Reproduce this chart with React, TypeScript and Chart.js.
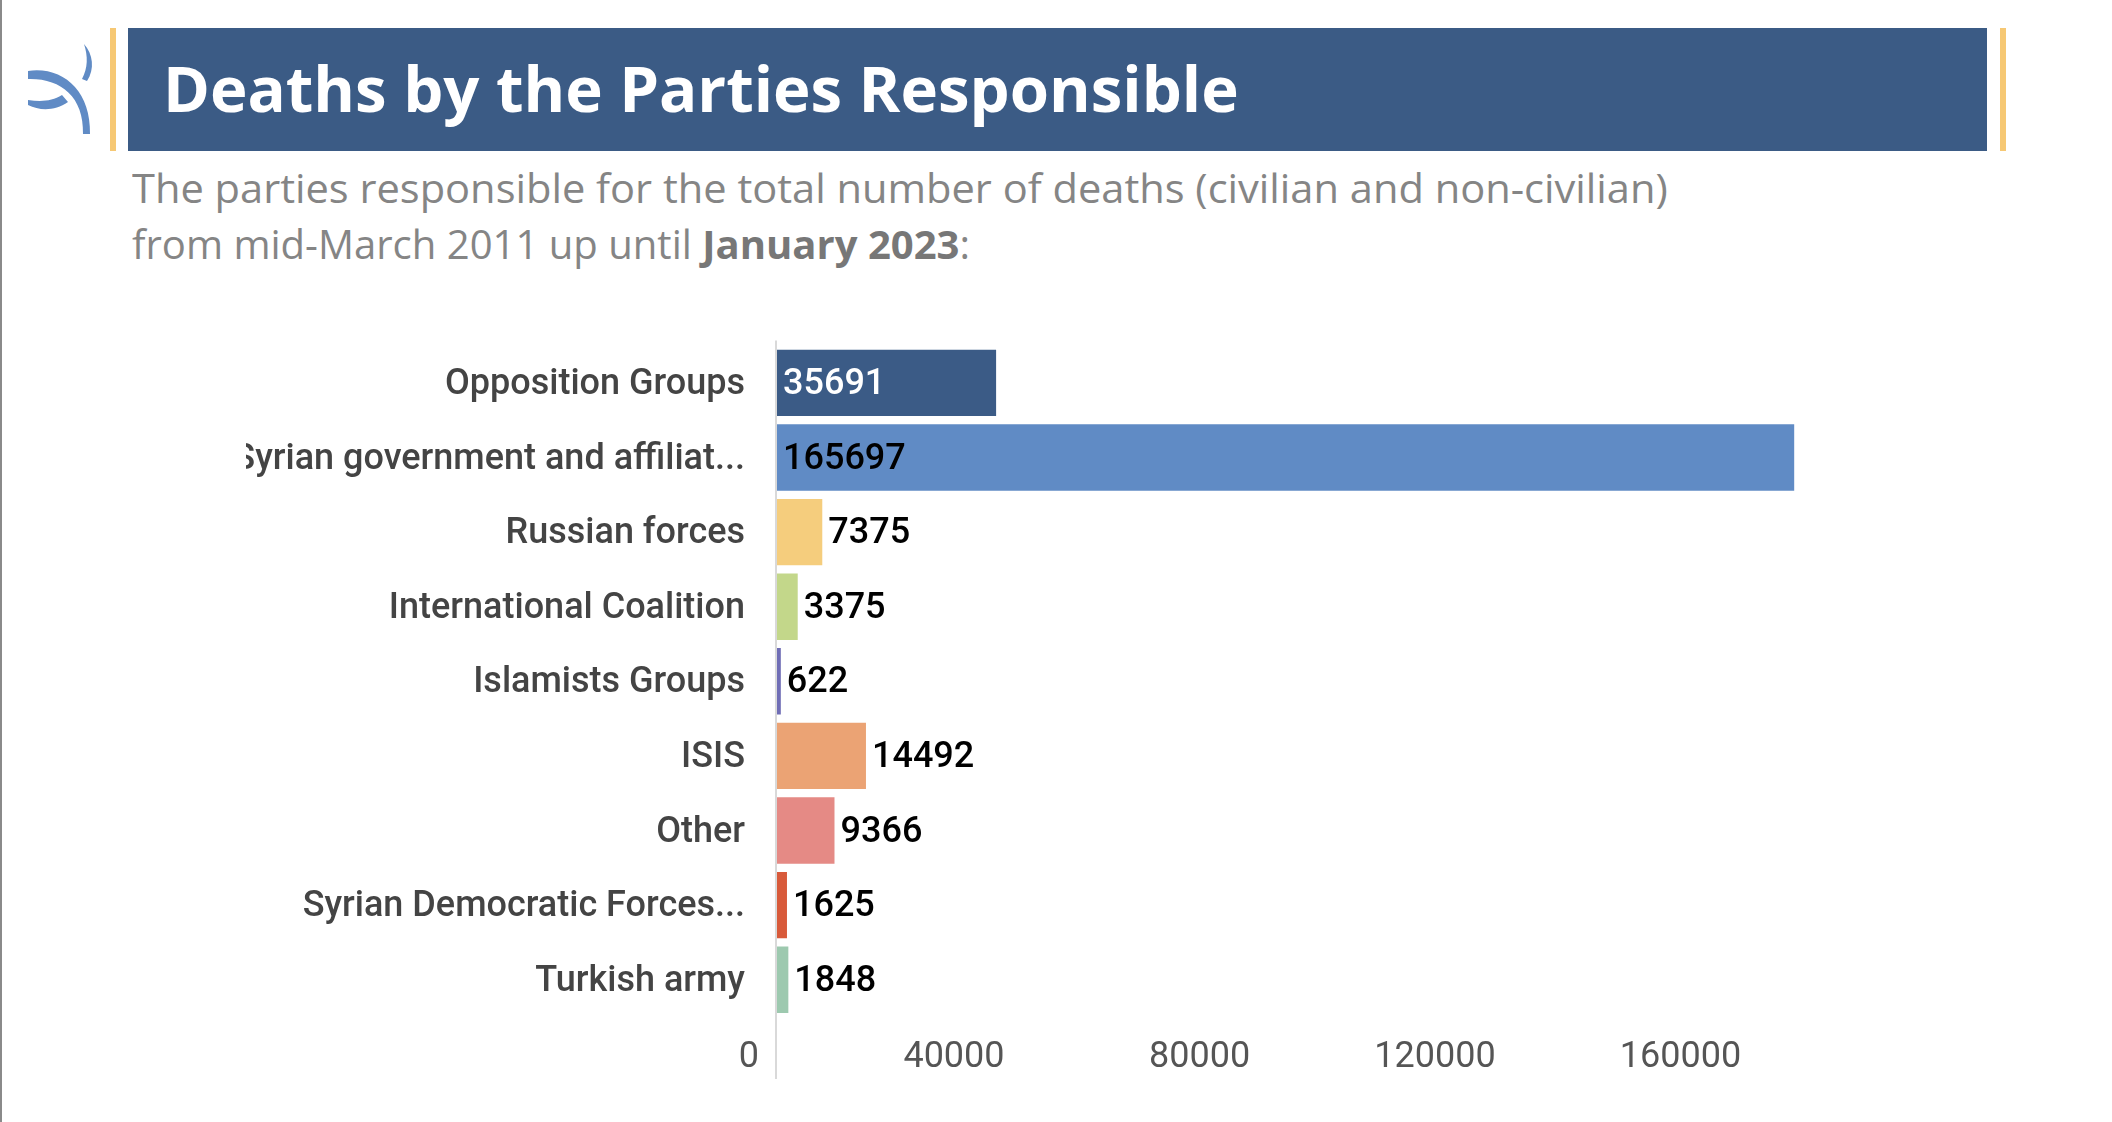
import React, { useEffect, useLayoutEffect, useRef, useState } from "react";
import { Chart, registerables } from "chart.js";

Chart.register(...registerables);

// ---------- data ----------
const categories = [
  "Opposition Groups",
  "Syrian government and affiliat...",
  "Russian forces",
  "International Coalition",
  "Islamists Groups",
  "ISIS",
  "Other",
  "Syrian Democratic Forces...",
  "Turkish army",
];
const deaths = [35691, 165697, 7375, 3375, 622, 14492, 9366, 1625, 1848];
const barColors = [
  "#3B5B86",
  "#608BC5",
  "#F5CD7D",
  "#C3D78A",
  "#6F6DB5",
  "#EBA374",
  "#E58A85",
  "#D85A3A",
  "#9DC9AF",
];
const insideLabelColors = ["#FFFFFF", "#000000", "#000000", "#000000", "#000000", "#000000", "#000000", "#000000", "#000000"];
const xTicks = [0, 40000, 80000, 120000, 160000];
const xMax = 180000;

const titleText = "Deaths by the Parties Responsible";
const subtitleLine1 = "The parties responsible for the total number of deaths (civilian and non-civilian)";
const subtitleLine2a = "from mid-March 2011 up until ";
const subtitleLine2b = "January 2023";
const subtitleLine2c = ":";

// ---------- plugins ----------
const axisLinePlugin = {
  id: "axisLine",
  beforeDatasetsDraw(chart: any) {
    const ctx = chart.ctx;
    const x = chart.scales.x.getPixelForValue(0);
    const { top, bottom } = chart.chartArea;
    ctx.save();
    ctx.strokeStyle = "#D9D9D9";
    ctx.lineWidth = 2;
    ctx.beginPath();
    ctx.moveTo(x - 1, top - 5);
    ctx.lineTo(x - 1, bottom + 62);
    ctx.stroke();
    ctx.restore();
  },
};

const valueLabelPlugin = {
  id: "valueLabels",
  afterDatasetsDraw(chart: any) {
    const ctx = chart.ctx;
    const meta = chart.getDatasetMeta(0);
    ctx.save();
    ctx.font = "500 36px Roboto";
    ctx.textBaseline = "middle";
    ctx.textAlign = "left";
    meta.data.forEach((bar: any, i: number) => {
      const { x, y, base } = bar.getProps(["x", "y", "base"], true);
      const text = String(chart.data.datasets[0].data[i]);
      const w = ctx.measureText(text).width;
      const inside = x - base > w + 14;
      ctx.fillStyle = inside ? insideLabelColors[i] : "#000000";
      ctx.fillText(text, inside ? base + 6 : x + 6, y + 2);
    });
    ctx.restore();
  },
};

// ---------- helpers ----------
function FitText({ target, style, children }: any) {
  const ref = useRef<HTMLSpanElement>(null);
  const [scale, setScale] = useState(1);
  useLayoutEffect(() => {
    const measure = () => {
      if (ref.current) {
        const w = ref.current.offsetWidth;
        if (w > 0) setScale(target / w);
      }
    };
    measure();
    (document as any).fonts?.ready?.then(measure);
  }, [target]);
  return (
    <span
      ref={ref}
      style={{
        display: "inline-block",
        whiteSpace: "nowrap",
        transform: `scaleX(${scale})`,
        transformOrigin: "left center",
        ...style,
      }}
    >
      {children}
    </span>
  );
}

function Subtitle() {
  return (
    <div
      style={{
        position: "absolute",
        left: 132,
        top: 160,
        fontFamily: "'Open Sans', sans-serif",
        fontSize: 40,
        lineHeight: "56px",
        color: "#858585",
        whiteSpace: "nowrap",
      }}
    >
      <FitText target={1536}>{subtitleLine1}</FitText>
      <br />
      <FitText target={838}>
        {subtitleLine2a}
        <b style={{ fontWeight: 700, color: "#777777" }}>{subtitleLine2b}</b>
        {subtitleLine2c}
      </FitText>
    </div>
  );
}

function Logo() {
  return (
    <svg
      width={110}
      height={160}
      style={{ position: "absolute", left: 0, top: 0 }}
      viewBox="0 0 110 160"
    >
      <path d="M28,71 C62,66 91,90 90,134 L83,134 C84,96 60,78 28,79 Z" fill="#608BC5" />
      <path d="M28,100 C42,102 52,101 62,95 L68,102 C55,111 40,111 28,105 Z" fill="#608BC5" />
      <path d="M84,44 C93,54 95,69 87,81 L82,79 C88,68 88,56 84,44 Z" fill="#608BC5" />
    </svg>
  );
}

function BarChart() {
  const canvasRef = useRef<HTMLCanvasElement>(null);
  useEffect(() => {
    if (!canvasRef.current) return;
    const chart = new Chart(canvasRef.current, {
      type: "bar",
      data: {
        labels: categories,
        datasets: [
          {
            data: deaths,
            backgroundColor: barColors,
            borderWidth: 0,
            barPercentage: 0.89,
            categoryPercentage: 1,
          },
        ],
      },
      options: {
        indexAxis: "y",
        responsive: false,
        animation: false,
        devicePixelRatio: 1,
        layout: { padding: { top: 44, right: 56, bottom: 21, left: 0 } },
        plugins: {
          legend: { display: false },
          tooltip: { enabled: false },
          title: { display: false },
        },
        scales: {
          y: {
            grid: { display: false },
            border: { display: false },
            ticks: {
              color: "#444444",
              autoSkip: false,
              padding: 24,
              labelOffset: 2,
              font: { family: "Roboto", size: 36, weight: "500" },
            },
            afterFit(scale: any) {
              scale.width = 531;
            },
          },
          x: {
            min: 0,
            max: xMax,
            grid: { display: false },
            border: { display: false },
            afterBuildTicks(scale: any) {
              scale.ticks = xTicks.map((v) => ({ value: v }));
            },
            ticks: {
              color: "#555555",
              autoSkip: false,
              maxRotation: 0,
              align: "end",
              labelOffset: -18,
              padding: 11,
              font: { family: "Roboto", size: 36, weight: "400" },
              callback: (v: any) => String(v),
            },
            afterFit(scale: any) {
              scale.height = 62;
            },
          },
        },
      } as any,
      plugins: [axisLinePlugin, valueLabelPlugin],
    });
    return () => chart.destroy();
  }, []);
  return (
    <canvas
      ref={canvasRef}
      width={1692}
      height={800}
      style={{ position: "absolute", left: 246, top: 300, width: 1692, height: 800 }}
    />
  );
}

export default function App() {
  return (
    <div
      style={{
        position: "fixed",
        left: 0,
        top: 0,
        width: 2112,
        height: 1122,
        background: "#FFFFFF",
        overflow: "hidden",
      }}
    >
      <div style={{ position: "absolute", left: 0, top: 0, width: 2, height: 1122, background: "#8A8A8A" }} />
      <Logo />
      <div style={{ position: "absolute", left: 110, top: 28, width: 6, height: 123, background: "#F6C874" }} />
      <div style={{ position: "absolute", left: 128, top: 28, width: 1859, height: 123, background: "#3B5B85" }} />
      <div style={{ position: "absolute", left: 2000, top: 28, width: 6, height: 123, background: "#F6C874" }} />
      <div
        style={{
          position: "absolute",
          left: 163,
          top: 56,
          fontFamily: "'Open Sans', sans-serif",
          fontWeight: 700,
          fontSize: 63,
          lineHeight: 1,
          color: "#FFFFFF",
        }}
      >
        <FitText target={1076}>{titleText}</FitText>
      </div>
      <Subtitle />
      <BarChart />
    </div>
  );
}
